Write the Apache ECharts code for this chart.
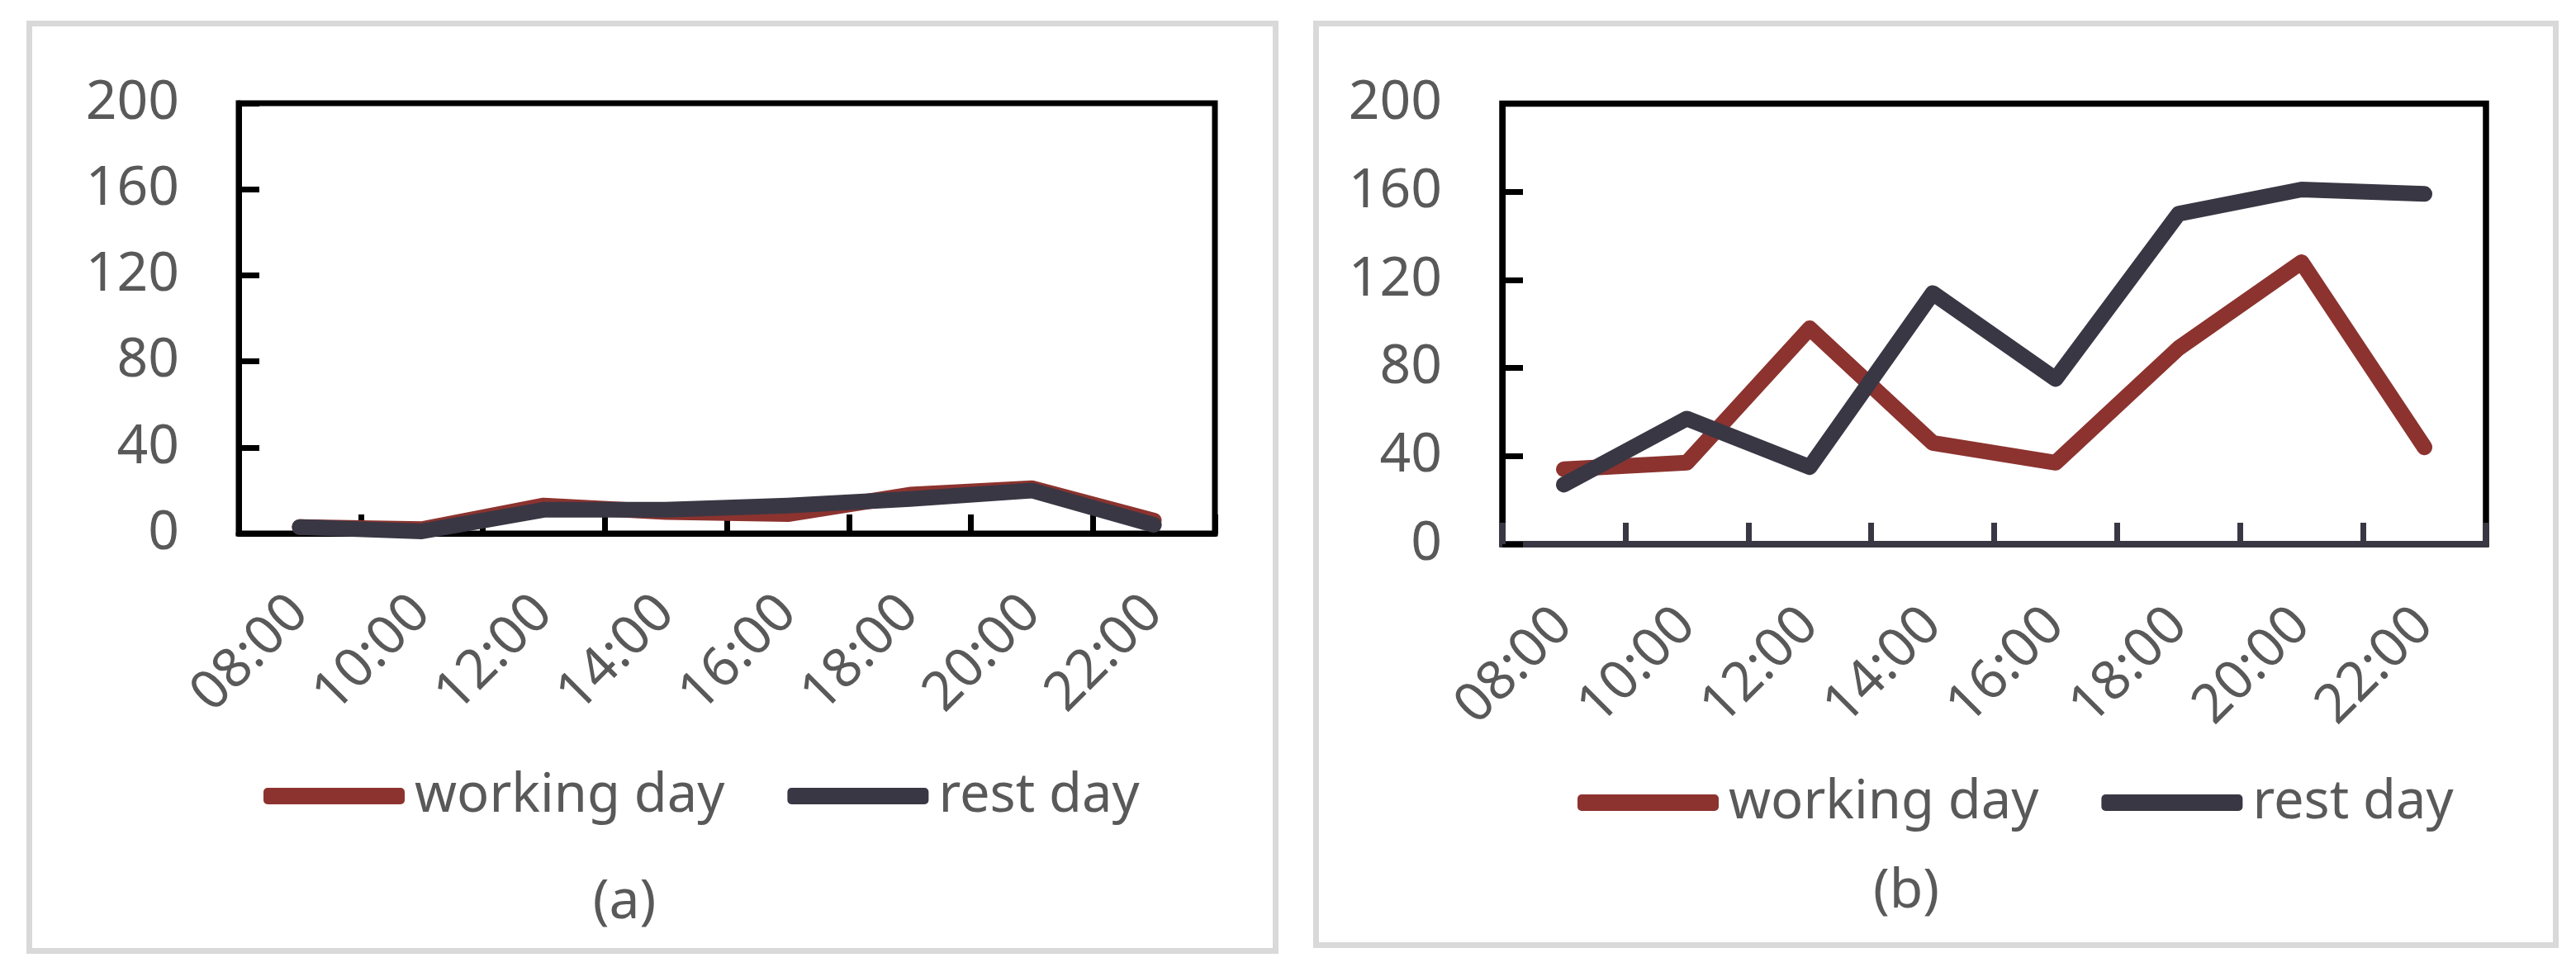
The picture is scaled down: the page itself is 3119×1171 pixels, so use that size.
<!DOCTYPE html>
<html>
<head>
<meta charset="utf-8">
<script src="https://cdn.jsdelivr.net/npm/echarts@6/dist/echarts.min.js"></script>
<style>
html,body{margin:0;padding:0;background:#fff;}
#c{width:3119px;height:1171px;}
</style>
</head>
<body>
<div id="c"></div>
<script>
// ---- data ----
const hours = ['08:00','10:00','12:00','14:00','16:00','18:00','20:00','22:00'];
const seriesNames = ['working day','rest day'];
const yMin = 0, yMax = 200, yStep = 40;
const workingA = [3, 2, 13, 10, 9, 18, 21, 6];
const restA    = [3, 1, 11, 11, 13, 16, 20, 4];
const workingB = [34, 37, 98, 46, 37, 89, 128, 44];
const restB    = [27, 57, 35, 114, 75, 150, 161, 159];
const panelLabels = ['(a)', '(b)'];

// ---- styles ----
const FONT = 'Noto Sans';
const TXT = '#595959';
const RED = '#8c332f';
const DARK = '#3a3744';
const LW = 19;

const chart = echarts.init(document.getElementById('c'), null, {renderer:'canvas'});

function xAxis(gridIndex, lineColor, lineW, tickColor, tickLen, margin){
  return {
    type:'category', gridIndex, data: hours, boundaryGap:true,
    axisLine:{show:true, lineStyle:{color:lineColor, width:lineW}},
    axisTick:{show:true, inside:true, length:tickLen, alignWithLabel:false, lineStyle:{color:tickColor, width:7}},
    axisLabel:{rotate:45, margin, fontSize:66, fontFamily:FONT, color:TXT, interval:0},
    splitLine:{show:false}
  };
}
function yAxis(gridIndex, margin){
  return {
    type:'value', gridIndex, min:yMin, max:yMax, interval:yStep,
    axisLine:{show:true, lineStyle:{color:'#000', width:7}},
    axisTick:{show:true, inside:true, length:25, lineStyle:{color:'#000', width:7}},
    axisLabel:{margin, fontSize:66, fontFamily:FONT, color:TXT},
    splitLine:{show:false}
  };
}
function line(name, data, color, xi){
  return {
    type:'line', name, data, xAxisIndex:xi, yAxisIndex:xi,
    symbol:'none', smooth:false, clip:false,
    color: color,
    itemStyle:{color},
    lineStyle:{color, width:LW, cap:'round', join:'round'},
    z: name === 'rest day' ? 4 : 3
  };
}
function legend(left, top){
  return {
    left, top, orient:'horizontal', icon:'roundRect',
    itemWidth:171, itemHeight:20, itemGap:76,
    data: seriesNames,
    textStyle:{fontSize:65, fontFamily:FONT, color:TXT, padding:[0,0,0,7], lineHeight:80}
  };
}

chart.setOption({
  animation:false,
  backgroundColor:'#fff',
  grid:[
    {left:289, top:125, width:1182, height:521, show:true, borderColor:'#000', borderWidth:7, backgroundColor:'transparent'},
    {left:1819, top:125.5, width:1191, height:533.5, show:true, borderColor:'#000', borderWidth:7.5, backgroundColor:'transparent'}
  ],
  xAxis:[
    xAxis(0, '#000', 7, '#000', 23, 86),
    xAxis(1, DARK, 8, DARK, 26, 88)
  ],
  yAxis:[ yAxis(0, 72), yAxis(1, 73) ],
  legend:[ legend(314, 919), legend(1905, 927) ],
  series:[
    line('working day', workingA, RED, 0),
    line('rest day', restA, DARK, 0),
    line('working day', workingB, RED, 1),
    line('rest day', restB, DARK, 1)
  ],
  graphic:[
    {type:'rect', shape:{x:35.5, y:28.5, width:1509, height:1123}, style:{fill:'none', stroke:'#d9d9d9', lineWidth:7}, silent:true, z:-1},
    {type:'rect', shape:{x:1593.5, y:28.5, width:1501, height:1116}, style:{fill:'none', stroke:'#d9d9d9', lineWidth:7}, silent:true, z:-1},
    {type:'text', x:756, y:1093, style:{text:panelLabels[0], fontSize:66, fontFamily:FONT, fill:TXT, textAlign:'center', textVerticalAlign:'middle'}},
    {type:'text', x:2308, y:1080, style:{text:panelLabels[1], fontSize:66, fontFamily:FONT, fill:TXT, textAlign:'center', textVerticalAlign:'middle'}}
  ]
});
</script>
</body>
</html>
